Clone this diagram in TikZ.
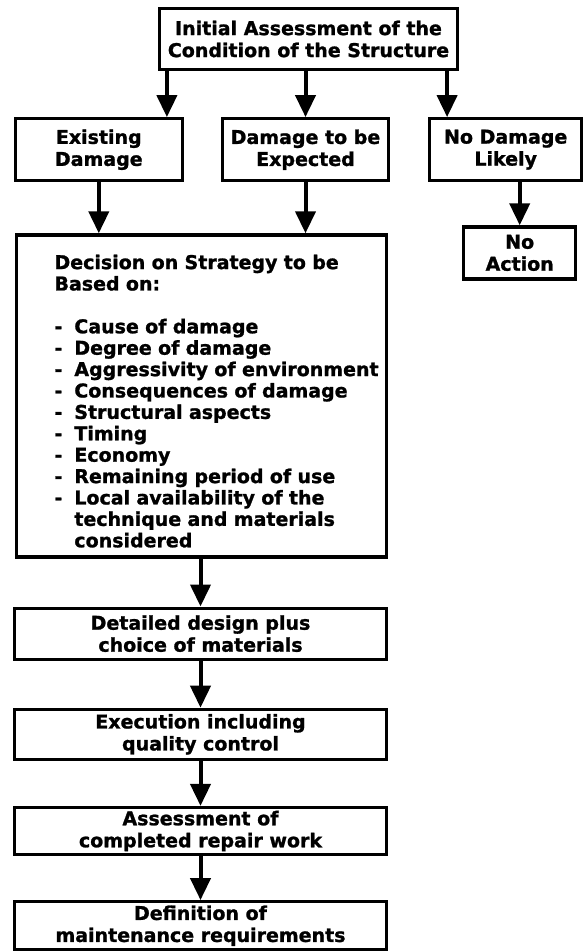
\documentclass[tikz,border=0pt]{standalone}
\usepackage{fontspec}
\setmainfont{DejaVu Sans}[BoldFeatures={FakeBold=1.2}]
\usetikzlibrary{positioning, arrows.meta}
\tikzset{
    box/.style={rectangle, draw=black, line width=3.2pt, fill=white, text centered, align=center, inner sep=0pt, font=\bfseries\fontsize{19}{22}\selectfont},
    listbox/.style={box, align=left, text width=330pt, inner xsep=20pt, font=\bfseries\fontsize{19}{21.4}\selectfont},
    arrow/.style={line width=4pt, -{Triangle[width=20pt,length=22pt]}}
}

\begin{document}
\begin{tikzpicture}[x=1pt, y=1pt]
        \useasboundingbox (0,0) rectangle (586,-952);

        \node (top) [box, minimum width=298pt, minimum height=61pt] at (308.5,-39) {Initial Assessment of the\\Condition of the Structure};
        \node (expect) [box, minimum width=166pt, minimum height=62pt, below=46pt of top, xshift=-3pt] {Damage to be\\Expected};
        \node (exist) [box, minimum width=167pt, minimum height=62pt, left=37pt of expect] {Existing\\Damage};
        \node (nodmg) [box, minimum width=152pt, minimum height=62pt, right=38pt of expect] {No Damage\\Likely};
        \node (noact) [box, minimum width=112pt, minimum height=52pt, below=43pt of nodmg, xshift=14pt] {No\\Action};

        \node (decide) [listbox, minimum width=370pt, minimum height=322pt, below=51pt of expect, xshift=-104pt] {\hspace*{18pt}\raisebox{-8pt}[\height][\depth]{\begin{tabular}{@{}l@{\hspace{12pt}}l@{}}
            \multicolumn{2}{@{}l@{}}{Decision on Strategy to be}\\
            \multicolumn{2}{@{}l@{}}{Based on:}\\
            & \\
            - & Cause of damage\\
            - & Degree of damage\\
            - & Aggressivity of environment\\
            - & Consequences of damage\\
            - & Structural aspects\\
            - & Timing\\
            - & Economy\\
            - & Remaining period of use\\
            - & Local availability of the\\
              & technique and materials\\
              & considered
        \end{tabular}}};

        \node (design) [box, minimum width=372pt, minimum height=51pt, below=48pt of decide, xshift=-1pt] {Detailed design plus\\choice of materials};
        \node (exec) [box, minimum width=372pt, minimum height=50pt, below=47pt of design] {Execution including\\quality control};
        \node (assess) [box, minimum width=372pt, minimum height=47pt, below=45pt of exec] {Assessment of\\completed repair work};
        \node (maint) [box, minimum width=372pt, minimum height=48pt, below=44pt of assess] {Definition of\\maintenance requirements};

        \draw [arrow] ([xshift=9pt]top.south west) -- ([xshift=9pt]top.south west |- exist.north);
        \draw [arrow] (top.south -| expect) -- (expect);
        \draw [arrow] ([xshift=-12pt]top.south east) -- ([xshift=-12pt]top.south east |- nodmg.north);
        \draw [arrow] (exist) -- (exist |- decide.north);
        \draw [arrow] (expect) -- (expect |- decide.north);
        \draw [arrow] (nodmg.south -| noact) -- (noact);
        \draw [arrow] (decide.south -| design) -- (design);
        \draw [arrow] (design) -- (exec);
        \draw [arrow] (exec) -- (assess);
        \draw [arrow] (assess) -- (maint);
    \end{tikzpicture}
\end{document}
